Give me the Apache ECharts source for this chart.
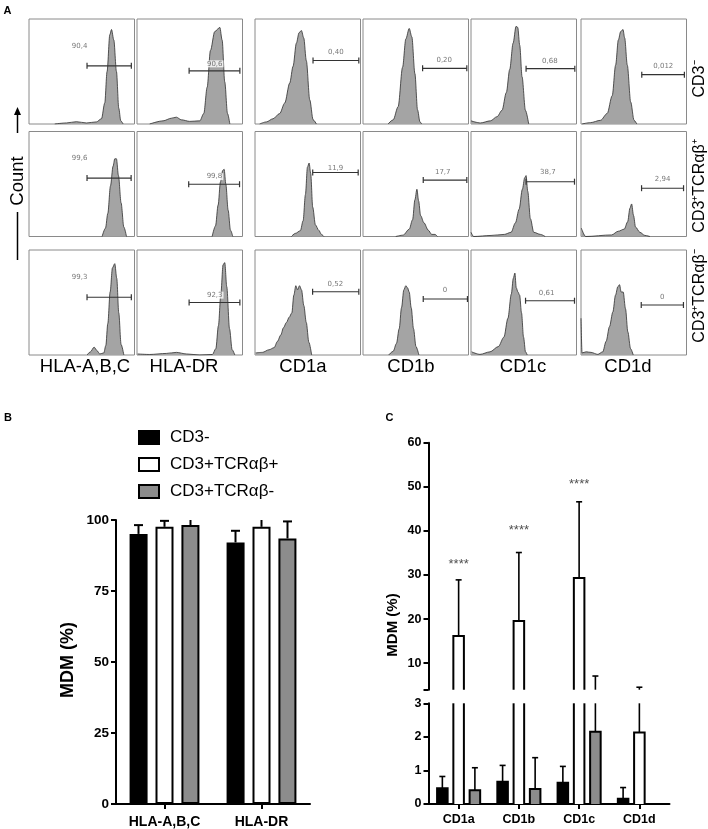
<!DOCTYPE html>
<html><head><meta charset="utf-8">
<script src="https://cdn.jsdelivr.net/npm/echarts@6/dist/echarts.min.js"></script>
<style>html,body{margin:0;padding:0;background:#fff}#main{width:708px;height:829px}</style>
</head><body><div id="main"></div>
<script>
// ================= DATA =================
const markers = ['HLA-A,B,C', 'HLA-DR', 'CD1a', 'CD1b', 'CD1c', 'CD1d'];
const populations = ['CD3⁻', 'CD3⁺TCRαβ⁺', 'CD3⁺TCRαβ⁻'];

// Panel A histograms: [fluorescence (% of box width), count (% of box height)]
const histCD3neg = [
  [[24.4,0],[35.4,1],[44.9,2.2],[54.4,1],[63.9,2],[68.7,5],[71.8,20],[74,50],[76.6,85],[78.2,90],[80.4,80],[82.9,50],[85.1,15],[87,3],[89.2,0]],
  [[12,0],[24.7,3],[32.6,5.5],[37.3,6.5],[42,4],[50,2.5],[59.5,3],[63.3,10],[66.5,35],[69.6,70],[73.7,88],[78.5,92],[80.7,80],[83.2,40],[85.8,10],[88,0]],
  [[4.4,0],[10.8,2],[17.1,5],[23.4,10],[28.2,20],[32.9,39],[36.1,55],[39.2,77],[41.8,87],[44,89],[46.2,82],[48.7,60],[51.9,23],[55.1,4],[58.2,0]],
  [[23.8,0],[28.6,4],[33.3,16.5],[37.5,54],[40.6,81],[43.8,91],[46.3,83],[49.2,48],[51.7,13.5],[54,2],[55.6,0]],
  [[0,3],[8.9,1],[18.4,3],[24.7,7],[29.4,13],[33.5,30],[36.7,52],[39.9,77],[42.7,93],[44.3,92],[46.2,75],[48.4,45],[51.6,13],[54.7,0]],
  [[1,0],[8.9,1.3],[18.5,3.5],[24.8,10],[29.6,27],[32.8,56],[35.4,80],[37.6,88],[39.8,90],[41.4,82],[43.9,56],[47.1,21],[50.3,3.5],[52.9,0]]
];
const histTCRpos = [
  [[69.3,0],[72.5,8],[74.7,22],[77.2,48],[79.7,67],[81.3,74],[82.9,74],[84.8,58],[87.3,32],[89.9,9],[92.4,0]],
  [[71.2,0],[74.4,10],[76.9,30],[79.1,52],[81.3,63],[82.6,64],[84.2,50],[86.4,25],[88.6,6],[90.8,0]],
  [[34.5,0],[38.3,3],[43,5.5],[45.6,15],[47.8,40],[49.7,66],[51.3,70],[52.8,60],[54.7,28],[57.3,11],[60.4,6],[63,2],[65.2,0]],
  [[31.1,0],[38.1,1.3],[43.8,7],[47,16],[49.2,35],[51.1,45],[52.7,34],[54.6,20],[57.8,13],[61.9,6],[65.1,2],[68.3,2],[70.5,0]],
  [[0,4],[2.5,0],[19,1],[31.6,2],[38,4],[42.1,13],[45.6,26],[48.7,45],[50.9,56],[52.2,58],[53.8,43],[56.3,17],[59.5,4],[65.8,2],[70.3,0]],
  [[0.3,8],[4.4,0],[29,1.5],[35.3,5],[41,7],[44.2,14],[46.4,27],[48,31],[49.8,20],[51.7,9],[55.8,4],[60.6,1],[65.3,0]]
];
const histTCRneg = [
  [[55.1,0],[58.2,3],[61.7,7.5],[64.6,4],[67.1,1],[70.9,2],[72.8,9],[74.7,30],[76.9,60],[79.1,83],[81.3,87],[83.2,73],[85.1,40],[87.3,10],[89.9,0]],
  [[0.6,1],[12,0.5],[27.8,1.5],[37.3,2.5],[46.8,1],[59.5,0],[71.5,0.5],[74.7,6],[77.2,28],[79.4,57],[81.6,86],[83.2,88],[85.1,65],[87.7,25],[90.2,5],[92.7,0]],
  [[0.6,2],[7,2.5],[13.3,5],[18.1,7],[21.3,13],[24.4,19],[27,26],[29.8,31],[32.4,36],[34.9,40],[36.8,57],[38.7,66],[40.3,62],[42.2,66],[44.1,62],[46.3,47],[48.6,31],[51.1,12],[53.7,0]],
  [[24.4,0],[28.6,3.5],[31.7,11],[34.3,25],[36.5,45],[38.7,62],[40.6,66],[42.2,64],[43.8,60],[45.7,45],[47.9,25],[50.2,8],[53,0]],
  [[0.6,3],[8.5,0.6],[18,3],[25.9,8],[31.2,17],[35,35],[38.2,58],[40.1,73],[41.6,78],[42.9,64],[44.5,60],[46.1,57],[47.9,40],[49.8,17],[51.7,3],[53.3,0]],
  [[0,35],[1,2],[4.8,3],[9.5,2.5],[15.9,0.6],[20.6,3],[23.8,13],[27,27],[30.2,41],[32.7,57],[34.9,65],[36.5,67],[38.1,60],[40,60],[42.2,44],[44.4,22],[47,6],[49.5,0]]
];
// Gates: [from, to, height] in histogram units
const gateCD3neg = [[55,97,55.4],[49.4,97.5,50.6],[55,98.4,60.5],[56.5,98.4,53],[52.2,98.4,52.7],[57.6,98,47]];
const gateTCRpos = [[55,96.8,55.6],[49,97.2,49.8],[54.7,97.8,61],[57.1,98.4,53.7],[52.2,98.1,52.2],[57.4,97.2,46]];
const gateTCRneg = [[55,97,55],[49.4,97.5,50],[54.6,98.4,60.3],[57.1,99,53.3],[51.7,98.1,51.7],[57.1,97.1,47.6]];
const pctCD3neg = ['90,4','90,6','0,40','0,20','0,68','0,012'];
const pctTCRpos = ['99,6','99,8','11,9','17,7','38,7','2,94'];
const pctTCRneg = ['99,3','92,3','0,52','0','0,61','0'];

// Panel B
const hlaCategories = ['HLA-A,B,C', 'HLA-DR'];
const groupNames = ['CD3-', 'CD3+TCRαβ+', 'CD3+TCRαβ-'];
const hlaCD3neg = [95.1, 92.1];
const hlaCD3negErr = [3.1, 4.1];
const hlaTCRpos = [97.6, 97.6];
const hlaTCRposErr = [2.1, 2.7];
const hlaTCRneg = [98.2, 93.5];
const hlaTCRnegErr = [2.1, 6.0];
const hlaTicks = [0, 25, 50, 75, 100];

// Panel C
const cd1Categories = ['CD1a', 'CD1b', 'CD1c', 'CD1d'];
const cd1CD3neg = [0.47, 0.66, 0.63, 0.16];
const cd1CD3negErr = [0.35, 0.49, 0.49, 0.33];
const cd1TCRpos = [16.2, 19.6, 29.3, 2.13];
const cd1TCRposErr = [12.7, 15.5, 17.3, 2.43];
const cd1TCRneg = [0.41, 0.45, 2.15, 0];
const cd1TCRnegErr = [0.67, 0.93, 4.95, 0];
const cd1Signif = ['****', '****', '****', ''];
const cd1SignifLevel = [32.3, 40.1, 50.6, null];

// ================= LAYOUT / STYLE =================
const FONT = '"Liberation Sans", Arial, sans-serif';
const L = {
  histLeft: [29, 137, 255, 363, 471, 581],
  histTop: [19, 131.5, 250],
  histW: 105.5, histH: 105,
  pctPos: [
    [[48,74.5],[73.7,57.3],[76.6,68.5],[77,61],[74.7,60],[78,55]],
    [[48,74.6],[73.4,57],[76.3,65],[75.6,61.6],[72.8,61],[77.3,54.6]],
    [[48,74],[73.7,57],[76.2,67.6],[77.8,61.3],[71.6,58.7],[77,55]]
  ],
  markerX: [85, 184, 303, 411, 523, 628], markerY: 367,
  popX: 700, popY: [79, 186, 296]
};
const slotFill = ['#000000', '#ffffff', '#8c8c8c'];

function barRenderer(stepFrac, halfFrac, capHalf, barLW, errLW, drawBar) {
  return function (params, api) {
    const cat = api.value(0), val = api.value(1), err = api.value(2), slot = api.value(3);
    const cs = params.coordSys;
    const band = api.size([1, 0])[0];
    const cx = api.coord([cat, 0])[0] + (slot - 1) * band * stepFrac;
    const hw = band * halfFrac;
    const top = cs.y, bot = cs.y + cs.height;
    const clamp = v => Math.max(top, Math.min(bot, v));
    const yVal = api.coord([cat, val])[1];
    const yZero = api.coord([cat, 0])[1];
    const kids = [];
    if (drawBar && val > 0) {
      const a = clamp(yVal), b = clamp(yZero);
      if (b - a > 0.5) {
        kids.push({type: 'rect', shape: {x: cx - hw, y: a, width: 2 * hw, height: b - a}, style: {fill: slotFill[slot]}});
        const st = {stroke: '#000', lineWidth: barLW, fill: null};
        if (yVal >= top - 0.5) {
          kids.push({type: 'polyline', shape: {points: [[cx - hw, b], [cx - hw, a], [cx + hw, a], [cx + hw, b]]}, style: st});
        } else {
          kids.push({type: 'line', shape: {x1: cx - hw, y1: a, x2: cx - hw, y2: b}, style: st});
          kids.push({type: 'line', shape: {x1: cx + hw, y1: a, x2: cx + hw, y2: b}, style: st});
        }
      }
    }
    if (err > 0) {
      const yErr = api.coord([cat, val + err])[1];
      const a = clamp(yErr), b = clamp(yVal);
      const st = {stroke: '#000', lineWidth: errLW};
      if (b - a > 0.5) kids.push({type: 'line', shape: {x1: cx, y1: a, x2: cx, y2: b}, style: st});
      if (yErr >= top - 0.5 && yErr <= bot + 0.5)
        kids.push({type: 'line', shape: {x1: cx - capHalf, y1: yErr, x2: cx + capHalf, y2: yErr}, style: st});
    }
    return {type: 'group', children: kids};
  };
}

const grid = [], xAxis = [], yAxis = [], series = [];
const hists = [histCD3neg, histTCRpos, histTCRneg];
const gates = [gateCD3neg, gateTCRpos, gateTCRneg];
const pcts = [pctCD3neg, pctTCRpos, pctTCRneg];

for (let r = 0; r < 3; r++) {
  for (let c = 0; c < 6; c++) {
    const gi = grid.length;
    grid.push({left: L.histLeft[c], top: L.histTop[r], width: L.histW, height: L.histH,
      show: true, borderColor: '#8a8a8a', borderWidth: 1, backgroundColor: '#fff', containLabel: false});
    xAxis.push({type: 'value', gridIndex: gi, min: 0, max: 100, show: false});
    yAxis.push({type: 'value', gridIndex: gi, min: 0, max: 100, show: false});
    series.push({type: 'line', xAxisIndex: gi, yAxisIndex: gi, data: hists[r][c], smooth: 0.3, smoothMonotone: 'x',
      symbol: 'none', lineStyle: {color: '#2e2e2e', width: 0.8}, areaStyle: {color: '#a4a4a4', opacity: 1}, silent: true, z: 2});
    const g = gates[r][c];
    series.push({type: 'line', xAxisIndex: gi, yAxisIndex: gi, data: [[g[0], g[2]], [g[1], g[2]]],
      symbol: 'rect', symbolSize: [1.2, 6], showSymbol: true, lineStyle: {color: '#333', width: 1.1},
      itemStyle: {color: '#333'}, silent: true, z: 4});
    series.push({type: 'scatter', xAxisIndex: gi, yAxisIndex: gi, data: [{value: L.pctPos[r][c], name: pcts[r][c]}],
      symbolSize: 1, itemStyle: {color: 'rgba(0,0,0,0)'},
      label: {show: true, position: 'inside', formatter: '{b}', fontSize: 7, color: '#555', fontFamily: 'DejaVu Sans',
        backgroundColor: '#fff', padding: [0, 1]}, silent: true, z: 5});
  }
}

const axisLineStyle = {show: true, lineStyle: {color: '#000', width: 2}};
const axisTickStyle = {show: true, length: 5, lineStyle: {color: '#000', width: 2}};

// ---- Panel B ----
const gB = grid.length;
grid.push({left: 116, top: 520, width: 194, height: 284, containLabel: false});
xAxis.push({type: 'category', gridIndex: gB, data: hlaCategories, axisLine: axisLineStyle,
  axisTick: Object.assign({alignWithLabel: true}, axisTickStyle),
  axisLabel: {color: '#000', fontWeight: 'bold', fontSize: 14, fontFamily: FONT, margin: 11}, splitLine: {show: false}});
yAxis.push({type: 'value', gridIndex: gB, min: hlaTicks[0], max: hlaTicks[hlaTicks.length - 1], interval: hlaTicks[1] - hlaTicks[0],
  axisLine: axisLineStyle, axisTick: axisTickStyle,
  axisLabel: {color: '#000', fontWeight: 'bold', fontSize: 13.5, fontFamily: FONT, margin: 7}, splitLine: {show: false}});
const hlaSets = [[hlaCD3neg, hlaCD3negErr], [hlaTCRpos, hlaTCRposErr], [hlaTCRneg, hlaTCRnegErr]];
const hlaErrData = [];
groupNames.forEach((n, s) => {
  series.push({type: 'bar', name: n, xAxisIndex: gB, yAxisIndex: gB, data: hlaSets[s][0], barWidth: 18, barGap: '44%',
    itemStyle: {color: slotFill[s], borderColor: '#000', borderWidth: 2}, silent: true, z: 3});
  hlaSets[s][0].forEach((v, i) => hlaErrData.push([i, v, hlaSets[s][1][i], s]));
});
series.push({type: 'custom', xAxisIndex: gB, yAxisIndex: gB, renderItem: barRenderer(0.268, 0.093, 4.5, 2, 2, false),
  encode: {x: 0, y: 1}, data: hlaErrData, silent: true, z: 4});

// ---- Panel C ----
const cd1Sets = [[cd1CD3neg, cd1CD3negErr], [cd1TCRpos, cd1TCRposErr], [cd1TCRneg, cd1TCRnegErr]];
const cd1Data = [];
cd1Sets.forEach((set, s) => set[0].forEach((v, i) => cd1Data.push([i, v, set[1][i], s])));

const gCt = grid.length;
grid.push({left: 428.5, top: 442.7, width: 241, height: 247, containLabel: false});
xAxis.push({type: 'category', gridIndex: gCt, data: cd1Categories, show: false});
yAxis.push({type: 'value', gridIndex: gCt, min: 4, max: 60, splitNumber: 5, axisLine: axisLineStyle, axisTick: axisTickStyle,
  axisLabel: {color: '#000', fontWeight: 'bold', fontSize: 12.5, fontFamily: FONT, margin: 7,
    formatter: v => (Math.abs(v % 10) < 1e-6 ? String(v) : '')}, splitLine: {show: false}});
const gCb = grid.length;
grid.push({left: 428.5, top: 703.3, width: 241, height: 100.7, containLabel: false});
xAxis.push({type: 'category', gridIndex: gCb, data: cd1Categories, axisLine: axisLineStyle,
  axisTick: Object.assign({alignWithLabel: true}, axisTickStyle),
  axisLabel: {color: '#000', fontWeight: 'bold', fontSize: 12.5, fontFamily: FONT, margin: 9}, splitLine: {show: false}});
yAxis.push({type: 'value', gridIndex: gCb, min: 0, max: 3, interval: 1, axisLine: axisLineStyle, axisTick: axisTickStyle,
  axisLabel: {color: '#000', fontWeight: 'bold', fontSize: 12.5, fontFamily: FONT, margin: 7}, splitLine: {show: false}});
[gCt, gCb].forEach(gi => {
  series.push({type: 'custom', xAxisIndex: gi, yAxisIndex: gi, renderItem: barRenderer(0.27, 0.0875, 3, 2, 1.6, true),
    encode: {x: 0, y: 1}, data: cd1Data, silent: true, z: 3});
});
series.push({type: 'scatter', xAxisIndex: gCt, yAxisIndex: gCt,
  data: cd1Signif.map((s, i) => ({value: [i, cd1SignifLevel[i]], name: s})).filter(d => d.name),
  symbolSize: 1, itemStyle: {color: 'rgba(0,0,0,0)'},
  label: {show: true, position: 'inside', formatter: '{b}', fontSize: 13, color: '#222', fontFamily: FONT}, silent: true, z: 5});

// ---- text graphics ----
const graphic = [];
function txt(x, y, text, size, weight, rot, color) {
  graphic.push({type: 'text', x: x, y: y, rotation: rot || 0, silent: true,
    style: {text: text, fontSize: size, fontWeight: weight || 'normal', fontFamily: FONT, fill: color || '#000',
      textAlign: 'center', textVerticalAlign: 'middle', align: 'center', verticalAlign: 'middle'}});
}
txt(7.5, 11, 'A', 11, 'bold');
txt(8, 418, 'B', 11, 'bold');
txt(389.5, 418, 'C', 11, 'bold');
markers.forEach((m, i) => txt(L.markerX[i], L.markerY, m, 18.5));
populations.forEach((p, i) => txt(L.popX, L.popY[i], p, 16, 'normal', Math.PI / 2));
txt(17.5, 181, 'Count', 18.5, 'normal', Math.PI / 2);
graphic.push({type: 'line', silent: true, shape: {x1: 17.5, y1: 113, x2: 17.5, y2: 133}, style: {stroke: '#000', lineWidth: 1.5}});
graphic.push({type: 'polygon', silent: true, shape: {points: [[17.5, 107], [14, 115], [21, 115]]}, style: {fill: '#000'}});
graphic.push({type: 'line', silent: true, shape: {x1: 17.5, y1: 212, x2: 17.5, y2: 260}, style: {stroke: '#000', lineWidth: 1.5}});
txt(68, 660, 'MDM (%)', 18, 'bold', Math.PI / 2);
txt(392.7, 625, 'MDM (%)', 15, 'bold', Math.PI / 2);

const option = {
  animation: false,
  backgroundColor: '#fff',
  grid, xAxis, yAxis, series, graphic,
  legend: {
    show: true, left: 133, top: 424, orient: 'vertical', itemWidth: 20, itemHeight: 13, itemGap: 10,
    icon: 'rect', selectedMode: false, data: groupNames,
    textStyle: {fontSize: 17, color: '#000', fontFamily: FONT, padding: [0, 0, 0, 6], lineHeight: 17}
  }
};
const chart = echarts.init(document.getElementById('main'));
chart.setOption(option);
</script></body></html>
